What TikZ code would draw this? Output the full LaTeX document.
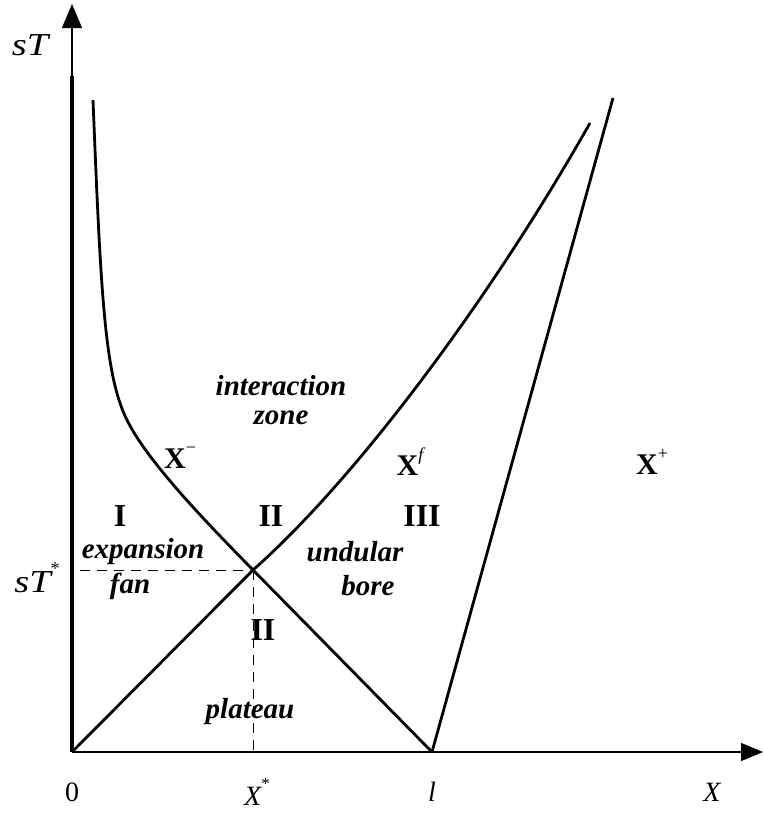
\documentclass[tikz,border=0pt]{standalone}
\usepackage{fontspec}
\setmainfont{Liberation Serif}
\usetikzlibrary{arrows.meta}
\tikzset{
  curve/.style={line width=2.8pt},
  axis/.style={line width=1.3pt},
  dashline/.style={line width=1pt, dash pattern=on 10pt off 7pt},
  lab/.style={font=\fontsize{29}{32}\selectfont\bfseries\itshape, inner sep=0pt},
  roman/.style={font=\fontsize{32}{36}\selectfont\bfseries, inner sep=0pt},
  axlab/.style={font=\fontsize{28}{32}\selectfont, inner sep=0pt},
  stlab/.style={font=\fontsize{32}{36}\selectfont\itshape, inner sep=0pt},
  wlab/.style={font=\fontsize{30}{34}\selectfont\bfseries, inner sep=0pt}
}
\begin{document}
\begin{tikzpicture}[x=1pt,y=-1pt]
\useasboundingbox (0,0) rectangle (763,814);
% key points
\coordinate (O) at (72,752);
\coordinate (S) at (253,570);
\coordinate (L) at (432,752);
\coordinate (Ytop) at (72,4);
\coordinate (Xend) at (763,752);
\coordinate (Ythick) at (72,76);
\coordinate (Mtop) at (93,100);
\coordinate (Mmid) at (128,422);
\coordinate (Ftop) at (590,123);
\coordinate (Ptop) at (613,98);
\coordinate (Hd) at (80,570);
\coordinate (Vd) at (253,752);
% axes
\draw[axis, -{Triangle[length=24pt,width=20pt]}] (O) -- (Ytop);
\draw[axis, -{Triangle[length=22pt,width=18pt]}] (O) -- (Xend);
\draw[line width=4pt] (O) -- (Ythick);
% dashed
\draw[dashline] (Hd) -- (S);
\draw[dashline] (S) -- (Vd);
% characteristic lines
\draw[curve] (O) -- (S) -- (L);
\draw[curve] (L) -- (Ptop);
\draw[curve] (S) .. controls (355,480) and (490,300) .. (Ftop);
\draw[curve] (Mtop) .. controls (101,300) and (105,378) .. (Mmid)
  .. controls (150,465) and (212,528) .. (S);
% axis labels
\node[stlab] (sT) at (30,45) {\scalebox{1.2}[1]{sT}};
\node[stlab] (sTs) at (37,578) {\scalebox{1.2}[1]{sT}\raisebox{0.55em}{\fontsize{18}{20}\selectfont\upshape *}};
\node[axlab] (zero) at (72,792) {0};
\node[axlab] (Xs) at (257,792) {\itshape X\raisebox{0.55em}{\fontsize{17}{20}\selectfont\upshape *}};
\node[axlab] (ell) at (432,792) {\itshape l};
\node[axlab] (X) at (712,792) {\itshape X};
% curve labels
\node[wlab] (Xm) at (180,458) {X\raisebox{0.5em}{\fontsize{18}{20}\selectfont\mdseries −}};
\node[wlab] (Xf) at (410,462) {X\raisebox{0.5em}{\fontsize{18}{20}\selectfont\mdseries\itshape f}};
\node[wlab] (Xp) at (652,462) {X\raisebox{0.5em}{\fontsize{18}{20}\selectfont\mdseries +}};
% zone labels
\node[lab] (int) at (281,386) {interaction};
\node[lab] (zone) at (281,418) {zone};
\node[roman] (I) at (120,516) {I};
\node[roman] (II) at (271,516) {II};
\node[roman] (III) at (422,516) {III};
\node[lab] (exp) at (143,552) {expansion};
\node[lab] (fan) at (130,586) {fan};
\node[lab] (und) at (355,552) {undular};
\node[lab] (bore) at (368,586) {bore};
\node[roman] (IIb) at (263,630) {II};
\node[lab] (plat) at (250,712) {plateau};
\end{tikzpicture}
\end{document}
